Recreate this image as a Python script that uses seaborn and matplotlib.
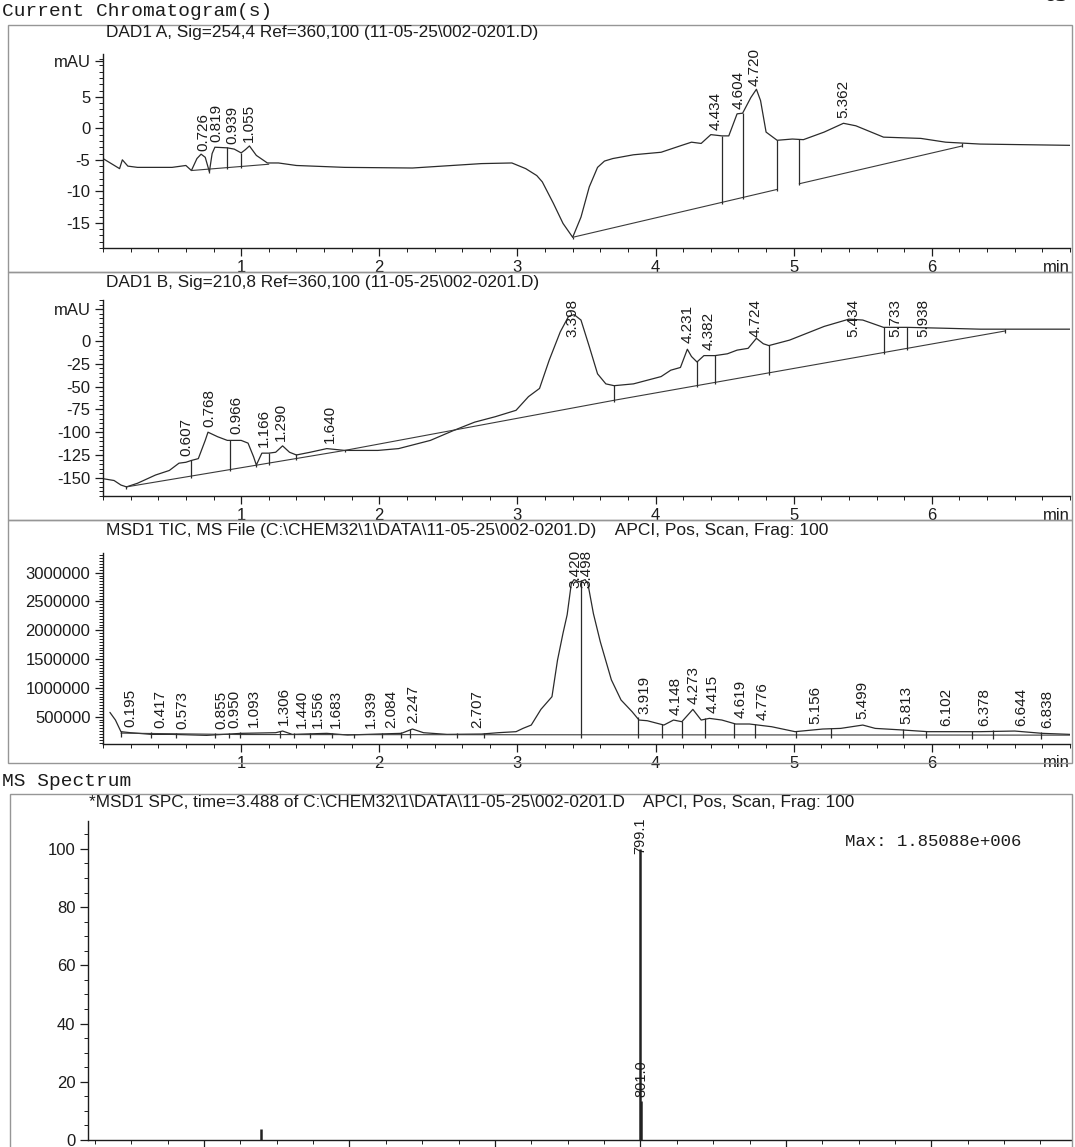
import numpy as np
import matplotlib
matplotlib.use("Agg")
import matplotlib.pyplot as plt
import seaborn as sns
from matplotlib.patches import Rectangle
from matplotlib.ticker import MultipleLocator, FixedLocator

# ---------------- data ----------------
# DAD1 A, 254 nm (minutes, mAU)
dadA_t = [0.00, 0.06, 0.12, 0.14, 0.18, 0.25, 0.50, 0.60, 0.64, 0.68, 0.71, 0.74, 0.77,
          0.79, 0.81, 0.90, 0.95, 1.00, 1.03, 1.06, 1.11, 1.19, 1.27, 1.40, 1.75, 2.24,
          2.74, 2.96, 3.06, 3.14, 3.18, 3.26, 3.33, 3.40, 3.46, 3.52, 3.58, 3.63, 3.69,
          3.84, 4.04, 4.19, 4.26, 4.33, 4.40, 4.48, 4.53, 4.59, 4.63, 4.69, 4.73, 4.76,
          4.80, 4.88, 4.99, 5.07, 5.22, 5.36, 5.45, 5.65, 5.92, 6.10, 6.35, 7.00]
dadA_v = [-4.8, -5.6, -6.4, -5.0, -6.0, -6.2, -6.2, -5.9, -6.7, -4.8, -4.1, -4.6, -6.9,
          -4.0, -3.0, -3.1, -3.3, -3.9, -3.4, -2.8, -4.3, -5.5, -5.5, -5.9, -6.2, -6.3,
          -5.6, -5.5, -6.4, -7.5, -8.5, -11.9, -15.1, -17.3, -14.1, -9.3, -6.2, -5.2, -4.8,
          -4.2, -3.8, -2.7, -2.2, -2.4, -1.0, -1.2, -1.2, 2.3, 2.4, 4.9, 6.2, 4.4,
          -0.6, -1.9, -1.7, -1.8, -0.6, 0.8, 0.4, -1.4, -1.6, -2.2, -2.5, -2.7]
dadA_peaks = [0.726, 0.819, 0.939, 1.055, 4.434, 4.604, 4.720, 5.362]
dadA_base_t = [[0.64, 1.20], [3.40, 4.88], [5.04, 6.22]]
dadA_base_v = [[-6.7, -5.7], [-17.3, -9.7], [-8.8, -2.8]]
dadA_cuts = [0.77, 0.90, 1.00, 3.40, 4.48, 4.63, 4.88, 5.04, 6.22]

# DAD1 B, 210 nm
dadB_t = [0.00, 0.08, 0.13, 0.17, 0.25, 0.38, 0.48, 0.55, 0.60, 0.64, 0.69, 0.74, 0.76,
          0.83, 0.90, 1.00, 1.05, 1.09, 1.11, 1.15, 1.20, 1.25, 1.30, 1.35, 1.40, 1.50,
          1.62, 1.75, 1.99, 2.14, 2.37, 2.54, 2.69, 2.84, 2.99, 3.08, 3.16, 3.23, 3.31,
          3.37, 3.41, 3.46, 3.52, 3.58, 3.64, 3.70, 3.84, 4.04, 4.11, 4.18, 4.23, 4.26,
          4.30, 4.35, 4.43, 4.52, 4.59, 4.67, 4.73, 4.78, 4.82, 4.97, 5.22, 5.40, 5.50,
          5.65, 5.82, 6.10, 6.35, 7.00]
dadB_v = [-151, -153, -158, -160, -156, -147, -142, -134, -133, -131, -129, -109, -100,
          -105, -109, -109, -112, -127, -136, -123, -123, -122, -115, -122, -125, -122,
          -118, -120, -120, -118, -109, -98, -89, -83, -76, -61, -52, -21, 10,
          27, 29, 23, -6, -36, -47, -49, -47, -39, -32, -29, -9, -17,
          -23, -16, -16, -14, -10, -8, 3, -3, -5, 1, 16, 24, 23,
          15, 15, 14, 13, 13]
dadB_peaks = [0.607, 0.768, 0.966, 1.166, 1.290, 1.640, 3.398, 4.231, 4.382, 4.724,
              5.434, 5.733, 5.938]
dadB_base_t = [[0.17, 1.75, 3.70, 6.53]]
dadB_base_v = [[-160, -120, -65, 11]]
dadB_cuts = [0.17, 0.64, 0.92, 1.11, 1.20, 1.40, 1.75, 3.70, 4.30, 4.43, 4.82, 5.65, 5.82, 6.53]

# MSD1 TIC
tic_t = [0.05, 0.09, 0.13, 0.20, 0.35, 0.50, 0.75, 1.00, 1.25, 1.30, 1.37, 1.62, 1.77,
         1.99, 2.16, 2.24, 2.32, 2.49, 2.74, 2.86, 2.99, 3.04, 3.10, 3.17, 3.25, 3.29,
         3.33, 3.36, 3.39, 3.41, 3.45, 3.49, 3.51, 3.55, 3.60, 3.68, 3.75, 3.83, 3.88,
         3.94, 4.06, 4.13, 4.19, 4.27, 4.33, 4.39, 4.48, 4.58, 4.68, 4.84, 5.01, 5.21,
         5.34, 5.50, 5.59, 5.79, 5.97, 6.35, 6.60, 6.80, 7.00]
tic_v = [575000, 442000, 240000, 222000, 193000, 193000, 176000, 211000, 222000, 251000,
         193000, 211000, 182000, 199000, 211000, 286000, 222000, 193000, 199000, 222000,
         240000, 297000, 355000, 627000, 847000, 1480000, 1950000, 2270000, 2810000,
         2880000, 2840000, 2880000, 2810000, 2290000, 1800000, 1140000, 790000, 587000,
         442000, 430000, 355000, 442000, 413000, 627000, 442000, 471000, 442000, 373000,
         373000, 326000, 240000, 286000, 297000, 355000, 297000, 269000, 240000, 240000,
         251000, 211000, 193000]
tic_peaks = [0.195, 0.417, 0.573, 0.855, 0.950, 1.093, 1.306, 1.440, 1.556, 1.683, 1.939,
             2.084, 2.247, 2.707, 3.420, 3.498, 3.919, 4.148, 4.273, 4.415, 4.619, 4.776,
             5.156, 5.499, 5.813, 6.102, 6.378, 6.644, 6.838]
tic_base_t = [[0.13, 1.00, 7.00]]
tic_base_v = [[215000, 190000, 180000]]
tic_cuts = [0.13, 0.35, 0.53, 0.81, 0.91, 0.99, 1.28, 1.38, 1.50, 1.66, 1.82, 2.02, 2.16,
            2.22, 2.56, 2.76, 3.46, 3.87, 4.05, 4.19, 4.36, 4.57, 4.72, 5.02, 5.27, 5.79,
            5.96, 6.29, 6.44, 6.79]

# MS spectrum at 3.488 min
ms_mz = [278.0, 799.1, 801.0]
ms_ab = [3.7, 100.0, 13.5]
ms_labels = ["799.1", "801.0"]
ms_max_text = "Max: 1.85088e+006"

chrom_xticks = [1, 2, 3, 4, 5, 6]

# ---------------- drawing ----------------
sns.set_theme(style="ticks")
plt.rcParams['font.family'] = ['Liberation Sans', 'DejaVu Sans']
plt.rcParams['axes.linewidth'] = 1.0

W, H = 1075, 1147
fig = plt.figure(figsize=(W / 100, H / 100), dpi=100)
fig.patch.set_facecolor('white')
INK = '#1c1c1c'
LINE = '#2b2b2b'


def box(l, t, r, b):
    return [l / W, 1 - b / H, (r - l) / W, (b - t) / H]


def frame(l, t, r, b):
    fig.add_artist(Rectangle((l / W, 1 - b / H), (r - l) / W, (b - t) / H,
                             transform=fig.transFigure, fill=False,
                             ec='#969696', lw=1.0))


def ftext(x, y, s, **kw):
    fig.text(x / W, 1 - y / H, s, va='center', ha='left', color=INK, **kw)


def style(ax):
    sns.despine(ax=ax)
    for s in ('left', 'bottom'):
        ax.spines[s].set_color(INK)
    ax.set_facecolor('none')
    ax.tick_params(which='major', direction='out', length=6, width=0.9,
                   labelsize=12, colors=INK, pad=3)
    ax.tick_params(which='minor', direction='out', length=3, width=0.7, colors=INK)
    ax.set_xlabel('')
    ax.set_ylabel('')


def base_at(t, seg_t, seg_v):
    for st, sv in zip(seg_t, seg_v):
        if st[0] - 1e-9 <= t <= st[-1] + 1e-9:
            return float(np.interp(t, st, sv))
    return None


def chrom(ax, tx, ty, seg_t, seg_v, cuts, ext):
    sns.lineplot(x=tx, y=ty, ax=ax, color=LINE, lw=0.9, sort=False)
    for st, sv in zip(seg_t, seg_v):
        sns.lineplot(x=st, y=sv, ax=ax, color='#3a3a3a', lw=0.8, sort=False)
    for c in cuts:
        b = base_at(c, seg_t, seg_v)
        y = float(np.interp(c, tx, ty))
        lo, hi = min(b, y) - ext, max(b, y) + ext * 0.3
        ax.vlines(c, lo, hi, color='#2b2b2b', lw=0.9)
    ax.set_xlim(0, 7)
    ax.xaxis.set_major_locator(FixedLocator(chrom_xticks))
    ax.xaxis.set_minor_locator(MultipleLocator(0.2))
    ax.text(1.0, -0.06, 'min', transform=ax.transAxes, ha='right', va='top',
            fontsize=12, color=INK)


def labels(ax, xs, texts, tx, ty, pad_px=6, top_extra=4, fs=11):
    fig.canvas.draw()
    r = fig.canvas.get_renderer()
    top = ax.get_window_extent(r).y1 + top_extra
    for x, s in zip(xs, texts):
        y = float(np.interp(x, tx, ty))
        an = ax.annotate(s, xy=(x, y), xytext=(0, pad_px * 0.72), textcoords='offset points',
                         rotation=90, ha='center', va='bottom', fontsize=fs, color=INK,
                         annotation_clip=False)
        bb = an.get_window_extent(r)
        if bb.y1 > top:
            an.xyann = (0, (pad_px - (bb.y1 - top)) * 0.72)


# frames
frame(8, 25, 1072, 272)
frame(8, 272, 1072, 520)
frame(8, 520, 1072, 763)
frame(10, 794, 1072, 1175)

ftext(2, 12, 'Current Chromatogram(s)', family='Liberation Mono', fontsize=14)
ftext(2, 781, 'MS Spectrum', family='Liberation Mono', fontsize=14)
fig.text(1056 / W, 1 - 6 / H, '65', ha='center', va='bottom', fontsize=18,
         family='Liberation Serif', weight='bold', color=INK)

ftext(106, 33, r'DAD1 A, Sig=254,4 Ref=360,100 (11-05-25\002-0201.D)', fontsize=12.4)
ftext(106, 282, r'DAD1 B, Sig=210,8 Ref=360,100 (11-05-25\002-0201.D)', fontsize=12.4)
ftext(106, 531, r'MSD1 TIC, MS File (C:\CHEM32\1\DATA\11-05-25\002-0201.D)    '
      r'APCI, Pos, Scan, Frag: 100', fontsize=12.5)
ftext(89, 803, r'*MSD1 SPC, time=3.488 of C:\CHEM32\1\DATA\11-05-25\002-0201.D    '
      r'APCI, Pos, Scan, Frag: 100', fontsize=12.4)
ftext(845, 842, ms_max_text, family='Liberation Mono', fontsize=12.5)

# Panel 1
ax1 = fig.add_axes(box(103, 54, 1070, 248))
chrom(ax1, dadA_t, dadA_v, dadA_base_t, dadA_base_v, dadA_cuts, 0.2)
ax1.set_ylim(-19.0, 11.8)
ax1.set_yticks([-15, -10, -5, 0, 5, 10.7])
ax1.set_yticklabels(['-15', '-10', '-5', '0', '5', 'mAU'])
ax1.yaxis.set_minor_locator(MultipleLocator(1))
style(ax1)

# Panel 2
ax2 = fig.add_axes(box(103, 300, 1070, 496))
chrom(ax2, dadB_t, dadB_v, dadB_base_t, dadB_base_v, dadB_cuts, 2.0)
ax2.set_ylim(-170, 45)
ax2.set_yticks([-150, -125, -100, -75, -50, -25, 0, 35])
ax2.set_yticklabels(['-150', '-125', '-100', '-75', '-50', '-25', '0', 'mAU'])
ax2.yaxis.set_minor_locator(MultipleLocator(5))
style(ax2)

# Panel 3
ax3 = fig.add_axes(box(103, 553, 1070, 744))
chrom(ax3, tic_t, tic_v, tic_base_t, tic_base_v, tic_cuts, 60000)
ax3.set_ylim(26000, 3.342e6)
ax3.set_yticks([500000, 1000000, 1500000, 2000000, 2500000, 3000000])
ax3.set_yticklabels(['500000', '1000000', '1500000', '2000000', '2500000', '3000000'])
ax3.yaxis.set_minor_locator(MultipleLocator(50000))
style(ax3)

# MS spectrum (x tick labels fall below the page edge in the reference)
ax4 = fig.add_axes(box(88, 821, 1071, 1140))
ax4.vlines(ms_mz, 0, ms_ab, color='#222222', lw=1.8)
ax4.set_xlim(40.5, 1392)
ax4.set_ylim(0, 109.6)
ax4.set_xticks([200, 400, 600, 800, 1000, 1200])
ax4.xaxis.set_minor_locator(MultipleLocator(50))
ax4.set_yticks([0, 20, 40, 60, 80, 100])
ax4.yaxis.set_minor_locator(MultipleLocator(5))
style(ax4)
ax4.tick_params(axis='x', labelbottom=False)

labels(ax1, dadA_peaks, [f'{p:.3f}' for p in dadA_peaks], dadA_t, dadA_v, pad_px=5, top_extra=6)
labels(ax2, dadB_peaks, [f'{p:.3f}' for p in dadB_peaks], dadB_t, dadB_v, pad_px=6, top_extra=1)
labels(ax3, tic_peaks, [f'{p:.3f}' for p in tic_peaks], tic_t, tic_v, pad_px=6, top_extra=3)
labels(ax4, ms_mz[1:], ms_labels, ms_mz[1:], ms_ab[1:], pad_px=4, top_extra=4, fs=10.5)

fig.savefig('out.png', dpi=100)
